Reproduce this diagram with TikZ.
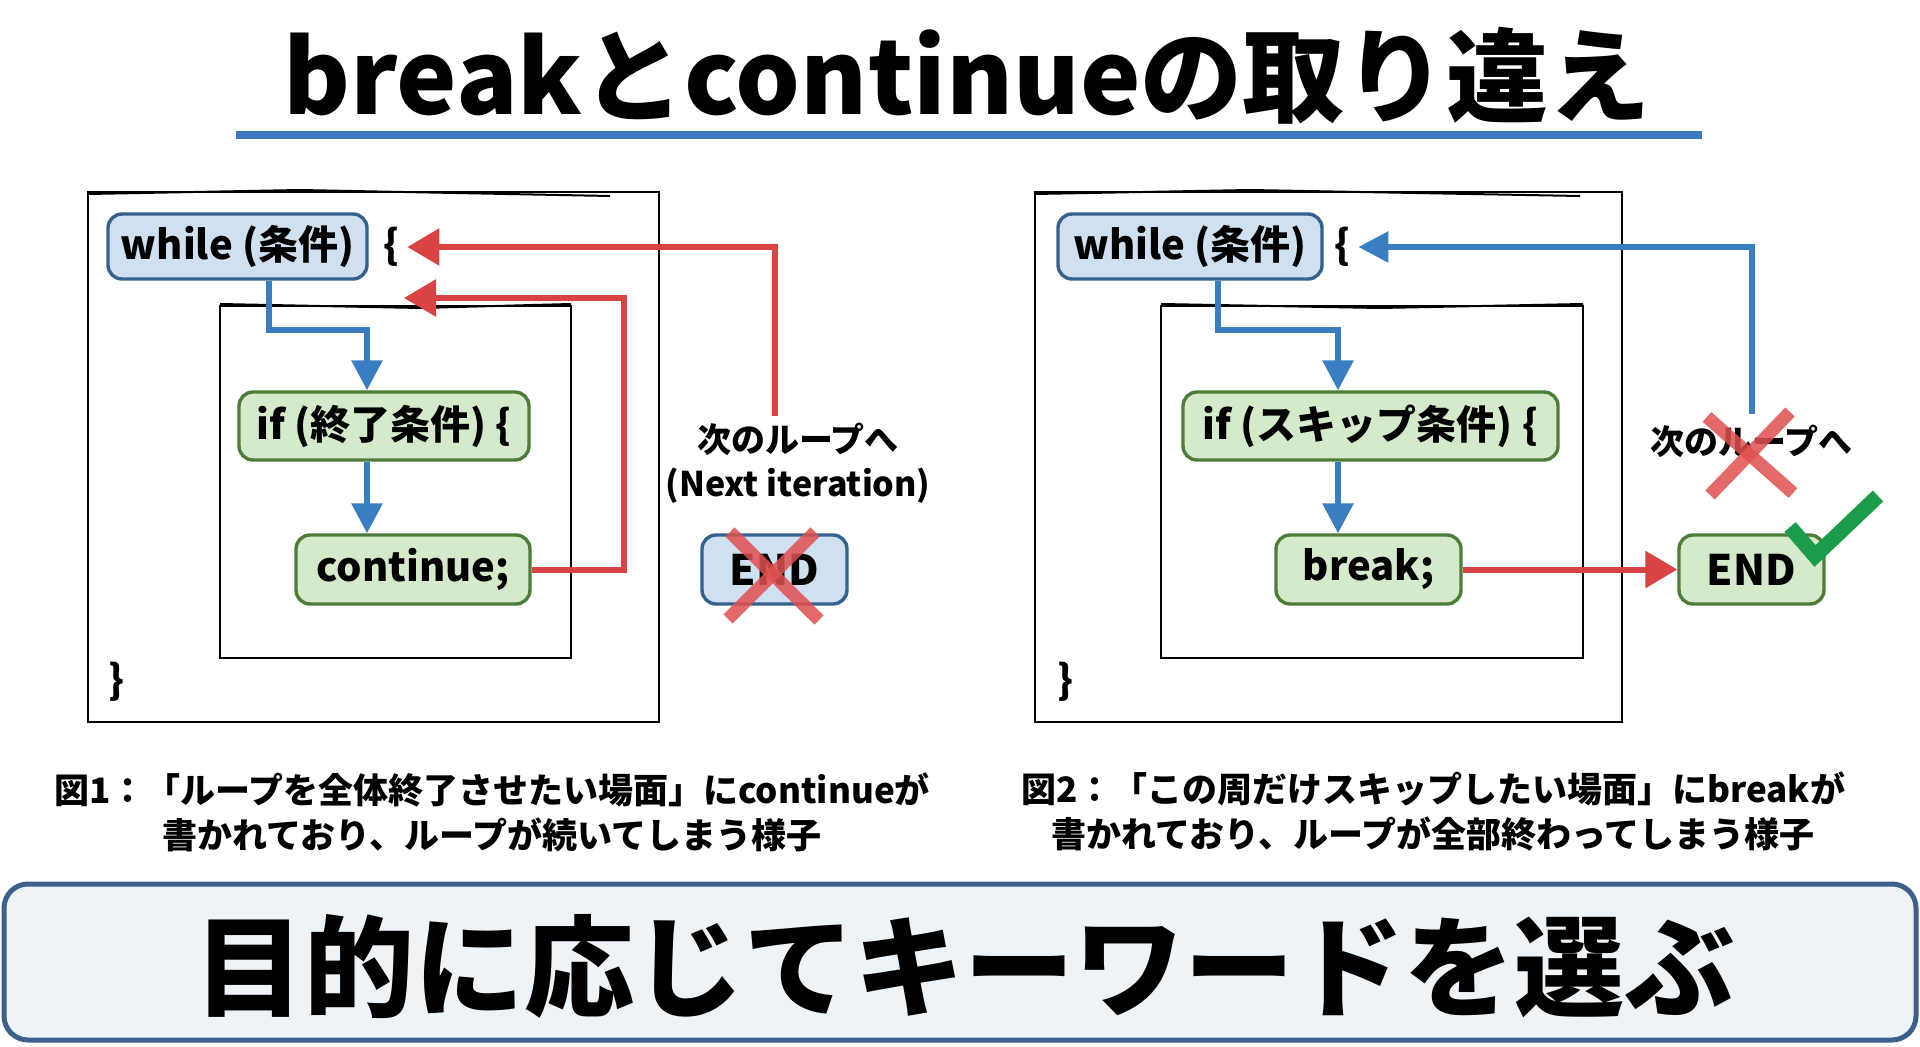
\documentclass[tikz,border=0pt]{standalone}
\usepackage{fontspec}
\setmainfont{Noto Sans CJK JP}
\usetikzlibrary{arrows.meta,calc}
\definecolor{nodeblue}{HTML}{35618F}
\definecolor{fillblue}{HTML}{CFE0F0}
\definecolor{nodegreen}{HTML}{4E7D3A}
\definecolor{fillgreen}{HTML}{D4EACB}
\definecolor{arrblue}{HTML}{3A7EC2}
\definecolor{arrred}{HTML}{D94343}
\definecolor{xred}{HTML}{E05050}
\definecolor{checkgreen}{HTML}{1A9C4A}
\definecolor{titleblue}{HTML}{3C78BD}
\definecolor{boxfill}{HTML}{EEF3F8}
\definecolor{boxline}{HTML}{3D5F8C}
\begin{document}
\begin{tikzpicture}[x=0.5pt,y=-0.5pt,
  codefont/.style={font=\bfseries\fontsize{20}{24}\selectfont},
  bluenode/.style={draw=nodeblue, fill=fillblue, line width=1.7pt, rounded corners=7pt, inner sep=0pt, codefont},
  greennode/.style={draw=nodegreen, fill=fillgreen, line width=1.7pt, rounded corners=7pt, inner sep=0pt, codefont},
  frame/.style={draw=black, line width=1.3pt},
  sketchline/.style={draw=black, line width=1pt},
  barrow/.style={draw=arrblue, line width=3pt, -{Triangle[length=15pt,width=15pt]}},
  rarrow/.style={draw=arrred, line width=3pt, -{Triangle[length=16pt,width=18pt]}},
  crossmark/.style={draw=xred, line width=6.5pt, opacity=0.85},
  lbl/.style={font=\bfseries\fontsize{17}{22}\selectfont, align=center, inner sep=0pt},
  caption/.style={font=\bfseries\fontsize{17.5}{22.5}\selectfont, align=center, inner sep=0pt}
]
\path[use as bounding box, fill=white] (0,0) rectangle (1920,1047);

% title
\node[font=\bfseries\fontsize{51}{60}\selectfont, inner sep=0pt] (title) at (967,76) {breakとcontinueの取り違え};
\draw[draw=titleblue, line width=4pt] (236,135) -- (1702,135);

% ---------- left panel ----------
\draw[frame] (88,192) rectangle (659,722);
\draw[sketchline] (88,194) -- (300,190) -- (610,196);
\draw[frame] (220,306) rectangle (571,658);
\draw[sketchline] (220,304) -- (420,308) -- (571,304);
\node[bluenode, minimum width=129.5pt, minimum height=32.5pt] (while1) at (237.5,246.5) {while (条件)};
\node[codefont, inner sep=0pt] (brace1) at (391,247) {\{};
\node[greennode, minimum width=145pt, minimum height=34pt] (if1) at (384,426) {if (終了条件) \{};
\node[greennode, minimum width=117pt, minimum height=34.5pt] (cont1) at (413,569.5) {continue;};
\node[bluenode, minimum width=72.5pt, minimum height=34.5pt, font=\bfseries\fontsize{21}{24}\selectfont] (end1) at (774.5,569.5) {END};
\node[codefont, inner sep=0pt] (close1) at (116,682) {\}};
\node[lbl] (next1) at (798,463) {次のループへ\\(Next iteration)};
\coordinate (col1) at (367,0);
\coordinate (loop1) at (404,298);

\draw[barrow] ($(while1.south)+(31.5,0)$) -- ++(0,49) -| (col1 |- if1.north);
\draw[barrow] (col1 |- if1.south) -- (col1 |- cont1.north);
\draw[rarrow] (cont1.east) -| (624,298) -- (loop1);
\draw[rarrow] (end1.center |- next1.north) ++(0,-6) |- ($(brace1.east)+(8,0)$);
\draw[crossmark] (730,532) -- (819,620);
\draw[crossmark] (815,532) -- (728,619);

% ---------- right panel ----------
\draw[frame] (1035,192) rectangle (1622,722);
\draw[sketchline] (1035,194) -- (1250,190) -- (1580,196);
\draw[frame] (1161,306) rectangle (1583,658);
\draw[sketchline] (1161,304) -- (1380,308) -- (1583,304);
\node[bluenode, minimum width=132pt, minimum height=32.5pt] (while2) at (1190,246.5) {while (条件)};
\node[codefont, inner sep=0pt] (brace2) at (1342,247) {\{};
\node[greennode, minimum width=187.5pt, minimum height=34pt] (if2) at (1370.5,426) {if (スキップ条件) \{};
\node[greennode, minimum width=92.5pt, minimum height=34.5pt] (brk2) at (1368.5,569.5) {break;};
\node[greennode, minimum width=72.5pt, minimum height=34.5pt, font=\bfseries\fontsize{21}{24}\selectfont] (end2) at (1751.5,569.5) {END};
\node[codefont, inner sep=0pt] (close2) at (1065,682) {\}};
\node[lbl] (next2) at (1751,441) {次のループへ};
\coordinate (col2) at (1338,0);

\draw[barrow] ($(while2.south)+(28,0)$) -- ++(0,49) -| (col2 |- if2.north);
\draw[barrow] (col2 |- if2.south) -- (col2 |- brk2.north);
\draw[rarrow] (brk2.east) -- (end2.west);
\draw[barrow] (end2.center |- next2.north) ++(0,-10) |- ($(brace2.east)+(8,0)$);
\draw[crossmark] (1707,417) -- (1793,493);
\draw[crossmark] (1790,412) -- (1710,495);
\draw[draw=checkgreen, line width=7.5pt, line join=miter] (1790,527) -- (1815,556) -- (1878,496);

% captions
\node[caption] (cap1) at (492,812) {図1：「ループを全体終了させたい場面」にcontinueが\\書かれており、ループが続いてしまう様子};
\node[caption] (cap2) at (1433,812) {図2：「この周だけスキップしたい場面」にbreakが\\書かれており、ループが全部終わってしまう様子};

% bottom banner
\node[draw=boxline, fill=boxfill, line width=2.5pt, rounded corners=12pt, minimum width=956pt, minimum height=78pt, inner sep=0pt] (banner) at (960,962) {};
\node[font=\bfseries\fontsize{55}{64}\selectfont, inner sep=0pt] (msg) at (964,967) {目的に応じてキーワードを選ぶ};
\end{tikzpicture}
\end{document}
